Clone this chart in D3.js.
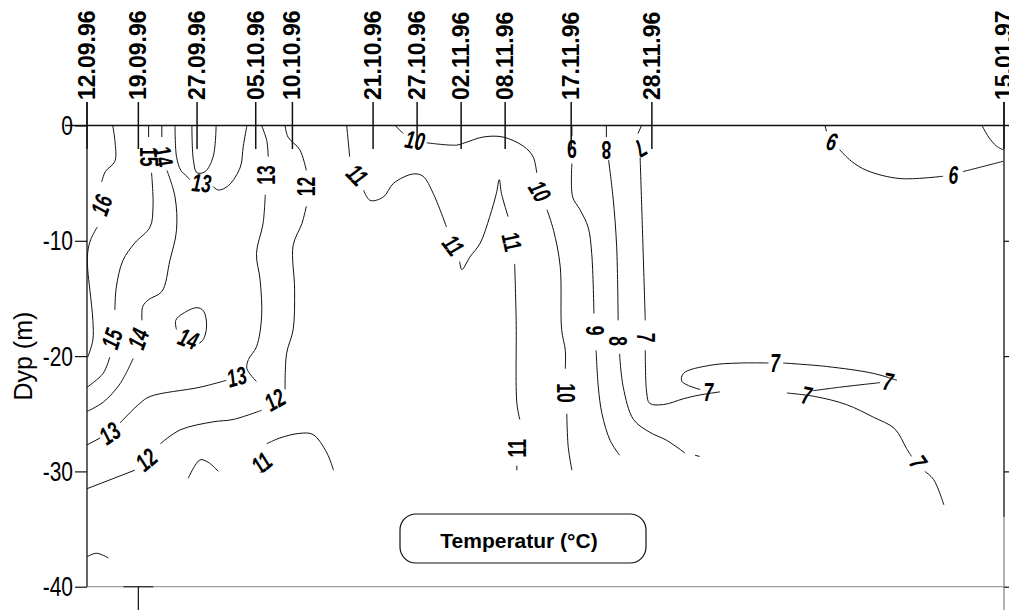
<!DOCTYPE html>
<html>
<head>
<meta charset="utf-8">
<script src="https://cdn.jsdelivr.net/npm/d3@7"></script>
<style>
    html, body { margin: 0; padding: 0; background: #fff; }
    svg { display: block; }
</style>
</head>
<body>
<svg id="chart" width="1009" height="610"></svg>
<script>
const sampleDates = ["12.09.96", "19.09.96", "27.09.96", "05.10.96", "10.10.96", "21.10.96",
    "27.10.96", "02.11.96", "08.11.96", "17.11.96", "28.11.96", "15.01.97"];
const depthTicks = [0, -10, -20, -30, -40];

// isotherm pieces: [days after 12.09.96, depth in m]; gaps are where the labels sit
const iso16 = [
    [[3.5, 0], [3.8, -1.3], [3.8, -3.1], [2.5, -4.0], [2.0, -4.9]],
    [[1.4, -8.8], [0.5, -9.9], [0.1, -11.0], [0.1, -12.5], [0.4, -14.3], [0.8, -16.9], [0.8, -18.6], [0.1, -20.1]]
];
const iso15 = [
    [[8.4, 0], [8.4, -1.0]],
    [[8.8, -4.1], [9.0, -7.0], [8.6, -8.8], [6.5, -10.2], [4.9, -11.7], [4.0, -14.0], [3.8, -16.0]],
    [[3.1, -20.1], [2.2, -21.5], [0, -22.7]]
];
const iso14 = [
    [[10.2, 0], [10.2, -1.0]],
    [[10.9, -3.9], [12.0, -6.2], [12.2, -9.1], [11.3, -11.7], [10.2, -14.4], [8.4, -15.1], [7.6, -15.7], [7.5, -16.9]],
    [[6.3, -20.2], [4.5, -22.4], [2.2, -24.0], [0, -24.8]],
    [[12.2, -17.7], [12.1, -16.9], [13.1, -16.3], [15.0, -15.8], [15.9, -16.1], [16.3, -17.4], [15.9, -18.5], [15.3, -18.9]]
];
const iso13 = [
    [[12.0, 0], [12.2, -2.7], [12.8, -3.9], [13.6, -4.4], [14.0, -4.7]],
    [[17.2, -5.3], [17.9, -5.6], [19.3, -5.2], [20.9, -3.6], [21.3, -1.8], [21.8, 0]],
    [[14.3, 0], [14.5, -3.0], [15.0, -4.1], [16.1, -4.0], [17.2, -2.7], [17.6, 0]],
    [[23.8, 0], [24.5, -1.3], [24.7, -2.7]],
    [[24.3, -6.0], [24.0, -8.5], [23.1, -11.1], [23.6, -13.4], [23.8, -16.6], [23.1, -19.2], [22.0, -20.3], [21.8, -21.1], [23.1, -22.2]],
    [[19.0, -22.1], [15.4, -22.7], [8.6, -23.5], [7.2, -24.1], [4.5, -25.8]],
    [[1.8, -27.1], [0, -27.7]]
];
const iso12 = [
    [[27.0, 0], [27.4, -1.0], [29.0, -2.1], [29.9, -3.9]],
    [[29.9, -7.0], [29.3, -8.5], [28.1, -10.4], [28.3, -14.2], [28.1, -17.7], [27.2, -19.8], [27.0, -22.9]],
    [[23.8, -24.7], [19.9, -25.5], [17.2, -25.7], [12.7, -26.4], [10.0, -27.6]],
    [[6.5, -29.9], [0, -31.5]]
];
const iso11 = [
    [[35.4, 0], [35.6, -1.3], [35.8, -2.7]],
    [[37.7, -5.6], [38.6, -6.5], [40.4, -6.2], [41.8, -5.0], [44.5, -4.2], [45.8, -4.4], [47.2, -5.9], [49.0, -8.8]],
    [[50.8, -11.8], [51.1, -12.5], [52.2, -11.4], [53.6, -10.2], [54.9, -7.9], [55.8, -5.9], [56.2, -4.7], [56.5, -5.9], [57.4, -7.9]],
    [[58.3, -12.0], [58.5, -16.9], [58.6, -24.1], [59.0, -25.5]],
    [[58.6, -29.5], [58.6, -29.9]],
    [[24.5, -27.6], [26.3, -27.1], [29.0, -26.7], [30.8, -26.8], [32.7, -28.4], [33.6, -29.9]]
];
const iso10 = [
    [[42.0, 0], [43.1, -0.7]],
    [[46.3, -1.5], [50.4, -1.7], [51.5, -1.5], [54.0, -1.0], [56.7, -1.0], [59.5, -1.8], [60.8, -2.7], [61.3, -4.1]],
    [[62.7, -7.3], [63.6, -9.1], [64.5, -12.2], [64.7, -17.7], [65.2, -19.5], [65.2, -21.1]],
    [[65.4, -25.0], [65.6, -27.9], [66.1, -29.9]]
];
const iso9 = [
    [[66.1, 0], [66.1, -0.9]],
    [[66.1, -3.3], [66.2, -6.2], [67.2, -7.3], [68.3, -8.8], [68.8, -11.1], [69.1, -16.3]],
    [[69.4, -19.5], [69.7, -22.7], [70.2, -25.0], [71.3, -27.3], [72.6, -28.6]]
];
const iso8 = [
    [[70.8, 0], [70.8, -1.0]],
    [[71.1, -3.0], [71.7, -6.2], [72.2, -10.5], [72.4, -16.9]],
    [[72.6, -19.8], [73.1, -22.7], [74.5, -25.5], [76.7, -26.6], [79.0, -27.3], [81.5, -28.4]],
    [[82.9, -28.6], [83.5, -28.7]]
];
const iso7 = [
    [[75.6, 0], [75.1, -0.7]],
    [[75.4, -2.8], [75.6, -6.7], [76.1, -16.9]],
    [[76.1, -19.5], [76.3, -23.2], [76.7, -24.1], [78.6, -24.2], [81.3, -23.7], [83.3, -23.4], [86.3, -23.1]],
    [[83.6, -22.9], [81.1, -22.2], [81.3, -21.5], [84.9, -20.8], [89.0, -20.6], [92.9, -20.6]],
    [[94.9, -20.6], [100.8, -20.9], [107.2, -21.5], [110.4, -22.1]],
    [[108.1, -22.3], [102.6, -22.7], [99.0, -23.0]],
    [[95.4, -23.2], [99.2, -23.5], [103.5, -24.2], [107.2, -25.3], [110.1, -26.3], [111.7, -28.0], [112.4, -28.7]],
    [[114.2, -30.0], [115.4, -30.7], [116.8, -32.9]]
];
const iso6 = [
    [[100.6, 0], [100.8, -0.5]],
    [[102.6, -2.1], [104.2, -3.1], [106.3, -3.9], [110.8, -4.6], [116.7, -4.4]],
    [[119.4, -4.0], [123.1, -3.4], [124.9, -3.1]]
];
// unlabelled fragments
const isoMisc = [
    [[122.0, 0], [122.9, -1.0], [124.0, -1.8], [124.9, -2.1]],
    [[13.8, -30.6], [15.4, -29.0], [16.5, -29.2], [17.9, -30.0]],
    [[0, -37.4], [1.3, -37.1], [2.9, -37.5]]
];

// [day, depth, text, angle]
const contourLabels = [
    [2.0, -6.9, "16", -70],
    [8.4, -2.7, "15", 90], [3.4, -18.5, "15", -72],
    [10.4, -2.7, "14", 80], [7.0, -18.5, "14", -70], [13.8, -18.5, "14", 20],
    [15.6, -5.0, "13", 5], [24.5, -4.3, "13", -90], [20.4, -21.8, "13", -15], [3.1, -26.7, "13", -35],
    [29.9, -5.3, "12", -90], [25.6, -23.8, "12", -30], [8.1, -29.0, "12", -40],
    [36.8, -4.3, "11", 45], [49.9, -10.4, "11", 52], [57.9, -10.1, "11", 78], [58.6, -28.0, "11", -90], [23.8, -29.3, "11", -40],
    [44.7, -1.3, "10", 10], [61.7, -5.7, "10", 60], [65.2, -23.2, "10", 90],
    [66.1, -2.0, "9", 180], [69.2, -17.8, "9", 90],
    [70.8, -2.1, "8", 180], [72.4, -18.7, "8", 90],
    [75.4, -2.0, "7", 150], [76.2, -18.4, "7", 90], [84.7, -23.1, "7", 0], [93.8, -20.6, "7", 0],
    [109.2, -22.2, "7", 10], [98.1, -23.4, "7", 10], [113.3, -29.2, "7", 55],
    [101.5, -1.4, "6", 15], [118.1, -4.3, "6", 0]
];

const svg = d3.select('#chart');
const parseDate = d3.utcParse('%d.%m.%y');
const dates = sampleDates.map(parseDate);

const x = d3.scaleUtc().domain([dates[0], dates[dates.length - 1]]).range([87, 1004]);
const y = d3.scaleLinear().domain([0, -40]).range([125.5, 586.7]);
const dayX = d => x(new Date(dates[0].getTime() + d * 864e5));

const left = x(dates[0]);
const right = x(dates[dates.length - 1]);
const bottom = y(-40);
const sans = '"Liberation Sans", Arial, sans-serif';

// frame
svg.append('line')
    .attr('x1', left).attr('x2', right)
    .attr('y1', bottom).attr('y2', bottom)
    .attr('stroke', '#a0a0a0').attr('stroke-width', 1.3);
svg.append('line')
    .attr('x1', x(dates[1]) - 15).attr('x2', x(dates[1]) + 15)
    .attr('y1', bottom).attr('y2', bottom)
    .attr('stroke', '#333').attr('stroke-width', 1.3);
svg.append('line')
    .attr('x1', x(dates[1])).attr('x2', x(dates[1]))
    .attr('y1', bottom).attr('y2', 610)
    .attr('stroke', '#111').attr('stroke-width', 1.2);

svg.append('line')
    .attr('x1', left).attr('x2', left)
    .attr('y1', 102).attr('y2', bottom)
    .attr('stroke', '#111').attr('stroke-width', 1.3);
svg.append('line')
    .attr('x1', right).attr('x2', right)
    .attr('y1', 102).attr('y2', 517)
    .attr('stroke', '#111').attr('stroke-width', 1.3);
svg.append('line')
    .attr('x1', right).attr('x2', right)
    .attr('y1', 517).attr('y2', 610)
    .attr('stroke', '#888').attr('stroke-width', 1.3);

svg.append('line')
    .attr('x1', 65).attr('x2', 1009)
    .attr('y1', y(0)).attr('y2', y(0))
    .attr('stroke', '#111').attr('stroke-width', 1.5);

// depth axis (narrow digits: squeeze Liberation Sans horizontally)
const yAxis = svg.append('g')
    .attr('transform', `translate(${left},0)`)
    .call(d3.axisLeft(y).tickValues(depthTicks).tickSize(12).tickPadding(2).tickFormat(d => String(d)));
yAxis.select('.domain').remove();
yAxis.selectAll('line').attr('stroke', '#111').attr('stroke-width', 1.2);
yAxis.selectAll('text')
    .attr('x', 0)
    .attr('transform', 'translate(-14,0) scale(0.75,1)')
    .attr('font-family', sans)
    .attr('font-size', 28)
    .attr('fill', '#000');

const yAxisRight = svg.append('g')
    .attr('transform', `translate(${right},0)`)
    .call(d3.axisRight(y).tickValues(depthTicks.slice(1)).tickSize(5).tickFormat(''));
yAxisRight.select('.domain').remove();
yAxisRight.selectAll('line').attr('stroke', '#111').attr('stroke-width', 1.2);

svg.append('text')
    .attr('transform', `translate(32,${y(-20)}) rotate(-90)`)
    .attr('text-anchor', 'middle')
    .attr('font-family', sans)
    .attr('font-size', 25)
    .attr('fill', '#000')
    .text('Dyp (m)');

// sampling dates
svg.selectAll('.date-tick')
    .data(dates)
    .enter()
    .append('line')
    .attr('class', 'date-tick')
    .attr('x1', d => x(d)).attr('x2', d => x(d))
    .attr('y1', 102).attr('y2', 149)
    .attr('stroke', '#111').attr('stroke-width', 1.5);

svg.selectAll('.date-label')
    .data(dates)
    .enter()
    .append('text')
    .attr('class', 'date-label')
    .attr('transform', d => `translate(${x(d) + 8},100) rotate(-90)`)
    .attr('text-anchor', 'start')
    .attr('font-family', sans)
    .attr('font-weight', 'bold')
    .attr('font-size', 23)
    .attr('fill', '#000')
    .text((d, i) => sampleDates[i]);

// isotherms
const line = d3.line()
    .x(d => dayX(d[0]))
    .y(d => y(d[1]))
    .curve(d3.curveCatmullRom.alpha(0.5));

const pieces = [iso16, iso15, iso14, iso13, iso12, iso11, iso10, iso9, iso8, iso7, iso6, isoMisc].flat();
svg.append('g')
    .selectAll('path')
    .data(pieces)
    .enter()
    .append('path')
    .attr('d', line)
    .attr('fill', 'none')
    .attr('stroke', '#111')
    .attr('stroke-width', 1);

// labels below -30 m on the left part are cut off
const clip = svg.append('defs').append('clipPath').attr('id', 'label-clip');
clip.append('rect').attr('x', 0).attr('y', 0).attr('width', 1009).attr('height', y(-30.1));
clip.append('rect').attr('x', 500).attr('y', 0).attr('width', 509).attr('height', 610);

svg.append('g')
    .attr('clip-path', 'url(#label-clip)')
    .selectAll('text')
    .data(contourLabels)
    .enter()
    .append('text')
    .attr('transform', d => `translate(${dayX(d[0])},${y(d[1])}) rotate(${d[3]}) scale(0.7,1)`)
    .attr('text-anchor', 'middle')
    .attr('dominant-baseline', 'central')
    .attr('font-family', sans)
    .attr('font-weight', 'bold')
    .attr('font-style', d => Math.abs(d[3]) < 75 ? 'italic' : 'normal')
    .attr('font-size', 25)
    .attr('fill', '#000')
    .text(d => d[2]);

// legend box
const legend = svg.append('g');
legend.append('rect')
    .attr('x', 400).attr('y', 514)
    .attr('width', 246).attr('height', 49)
    .attr('rx', 16).attr('ry', 16)
    .attr('fill', '#fff')
    .attr('stroke', '#111').attr('stroke-width', 1.2);
legend.append('text')
    .attr('x', 519).attr('y', 540)
    .attr('text-anchor', 'middle')
    .attr('dominant-baseline', 'central')
    .attr('font-family', sans)
    .attr('font-weight', 'bold')
    .attr('font-size', 21)
    .attr('fill', '#000')
    .text('Temperatur (°C)');
</script>
</body>
</html>
